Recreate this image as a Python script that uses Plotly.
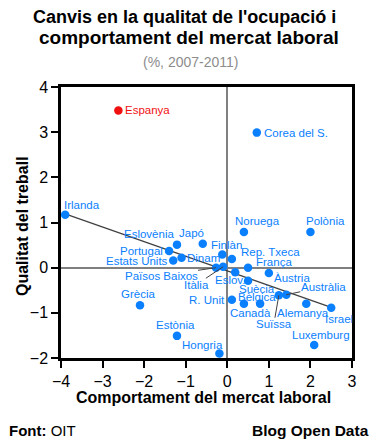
import plotly.graph_objects as go

# ---- data ----
countries = ["Espanya", "Irlanda", "Corea del S.", "Noruega", "Polònia", "Japó", "Eslovènia",
             "Portugal", "Estats Units", "Dinamarca", "Finlàndia", "Rep. Txeca", "Països Baixos",
             "Itàlia", "Eslovàquia", "França", "Àustria", "Suècia", "R. Unit", "Canadà", "Bèlgica",
             "Suïssa", "Austràlia", "Alemanya", "Israel", "Luxemburg", "Hongria", "Estònia", "Grècia"]
labels = ["Espanya", "Irlanda", "Corea del S.", "Noruega", "Polònia", "Japó", "Eslovènia",
          "Portugal", "Estats Units", "Dinam", "Finlàn", "Rep. Txeca", "Països Baixos",
          "Itàlia", "Eslov.", "França", "Àustria", "Suècia", "R. Unit", "Canadà", "Bèlgica",
          "Suïssa", "Austràlia", "Alemanya", "Israel", "Luxemburg", "Hongria", "Estònia", "Grècia"]
market = [-2.62, -3.90, 0.71, 0.40, 2.00, -0.59, -1.21,
          -1.40, -1.30, -1.10, -0.12, 0.11, -0.27,
          -0.10, 0.19, 0.50, 1.00, 0.50, 0.11, 0.40, 0.79,
          1.24, 1.42, 1.90, 2.50, 2.09, -0.19, -1.21, -2.10]
quality = [3.48, 1.17, 2.99, 0.79, 0.79, 0.53, 0.51,
           0.37, 0.16, 0.22, 0.29, 0.19, 0.00,
           0.02, -0.10, 0.00, -0.12, -0.29, -0.71, -0.80, -0.80,
           -0.61, -0.60, -0.80, -0.89, -1.71, -1.90, -1.51, -0.83]
trend_x = [-3.90, 2.50]
trend_y = [1.19, -0.88]

# ---- styles ----
BLUE = "#0A80FF"
RED = "#F01010"
LAB_FONT = "Liberation Sans, Arial, sans-serif"
OFF = 8                       # page body margin offset
W, H = 379 - OFF, 445 - OFF
L, R, T, B = 61, 352, 87, 358  # plot area in reference pixels

# label placement: (xanchor, dx px from point to anchor edge, dy px down to text centre)
label_pos = {
    "Espanya": ("left", 6, 0), "Irlanda": ("left", -2, -10), "Corea del S.": ("left", 6.5, 0),
    "Noruega": ("left", -10, -11), "Polònia": ("left", -5, -11), "Japó": ("right", 2, -11),
    "Eslovènia": ("right", -2, -11), "Portugal": ("right", -5, 0), "Estats Units": ("right", -4, 1),
    "Dinamarca": ("left", 4, 0), "Finlàndia": ("left", -12, -10), "Rep. Txeca": ("left", 8, -7.5),
    "Eslovàquia": ("left", -21, 8), "França": ("left", 7, -6), "Àustria": ("left", 4, 4.5),
    "Suècia": ("left", -10, 8), "R. Unit": ("right", -5.5, 0), "Canadà": ("left", -15, 9.5),
    "Bèlgica": ("left", -23, -6.5), "Alemanya": ("left", -30, 9.5), "Israel": ("left", -7, 11),
    "Luxemburg": ("left", -23, -9.5), "Hongria": ("right", 5, -8.5), "Estònia": ("left", -22, -11),
    "Grècia": ("left", -20, -11),
}
# labels with leader lines: (ax, ay) offset of text centre in px
leader_pos = {
    "Països Baixos": (-55, 8), "Itàlia": (-27, 18), "Suïssa": (-5, 29), "Austràlia": (37, -8),
}

def px_x(p):
    return (p - L) / (R - L)

def px_y(p):
    return (B - p) / (B - T)

colors = [RED if c == "Espanya" else BLUE for c in countries]

fig = go.Figure()
fig.add_trace(go.Scatter(x=trend_x, y=trend_y, mode="lines",
                         line=dict(color="#404040", width=1.2), hoverinfo="skip", showlegend=False))
fig.add_trace(go.Scatter(x=market, y=quality, mode="markers", text=countries,
                         marker=dict(size=8.5, color=colors), showlegend=False, cliponaxis=False))

ann = []
for c, lab, xv, yv, col in zip(countries, labels, market, quality, colors):
    f = dict(family=LAB_FONT, size=11.5, color=col)
    if c in leader_pos:
        ax, ay = leader_pos[c]
        ann.append(dict(x=xv, y=yv, xref="x", yref="y", text=lab, showarrow=True,
                        arrowhead=0, arrowwidth=1, arrowcolor="#404040", ax=ax, ay=ay,
                        xanchor="center", yanchor="middle", font=f, borderpad=0))
    else:
        xa, dx, dy = label_pos[c]
        ann.append(dict(x=xv, y=yv, xref="x", yref="y", text=lab, showarrow=False,
                        xanchor=xa, yanchor="middle", xshift=dx, yshift=-dy, font=f, borderpad=0))

# titles, axis titles, footer
ann += [
    dict(x=px_x(184), y=px_y(16.5), xref="paper", yref="paper", showarrow=False,
         text="<b>Canvis en la qualitat de l'ocupació i</b>", xanchor="center", yanchor="middle",
         font=dict(family=LAB_FONT, size=18, color="black")),
    dict(x=px_x(189), y=px_y(37), xref="paper", yref="paper", showarrow=False,
         text="<b>comportament del mercat laboral</b>", xanchor="center", yanchor="middle",
         font=dict(family=LAB_FONT, size=19, color="black")),
    dict(x=px_x(190), y=px_y(62), xref="paper", yref="paper", showarrow=False,
         text="(%, 2007-2011)", xanchor="center", yanchor="middle",
         font=dict(family=LAB_FONT, size=14, color="#8C8C8C")),
    dict(x=px_x(203), y=px_y(397), xref="paper", yref="paper", showarrow=False,
         text="<b>Comportament del mercat laboral</b>", xanchor="center", yanchor="middle",
         font=dict(family=LAB_FONT, size=16, color="black")),
    dict(x=px_x(23), y=px_y(226), xref="paper", yref="paper", showarrow=False, textangle=-90,
         text="<b>Qualitat del treball</b>", xanchor="center", yanchor="middle",
         font=dict(family=LAB_FONT, size=16, color="black")),
    dict(x=px_x(7), y=px_y(430), xref="paper", yref="paper", showarrow=False,
         text="<b>Font:</b> OIT", xanchor="left", yanchor="middle",
         font=dict(family=LAB_FONT, size=15, color="black")),
    dict(x=px_x(371), y=px_y(430), xref="paper", yref="paper", showarrow=False,
         text="<b>Blog Open Data</b>", xanchor="right", yanchor="middle",
         font=dict(family=LAB_FONT, size=15.5, color="black")),
]

axis_common = dict(showgrid=False, zeroline=True, zerolinecolor="#808080", zerolinewidth=2,
                   showline=True, mirror=True, linecolor="black", linewidth=2.5,
                   ticks="outside", ticklen=7, tickwidth=1.5, tickcolor="black", dtick=1,
                   tickfont=dict(family=LAB_FONT, size=16, color="black"))

fig.update_layout(
    width=W, height=H, autosize=False,
    margin=dict(l=L - OFF, r=379 - R, t=T - OFF, b=445 - B, pad=0),
    paper_bgcolor="white", plot_bgcolor="white",
    xaxis=dict(range=[-4, 3], **axis_common),
    yaxis=dict(range=[-2, 4], **axis_common),
    annotations=ann, showlegend=False,
)

fig.write_html("out.html")
